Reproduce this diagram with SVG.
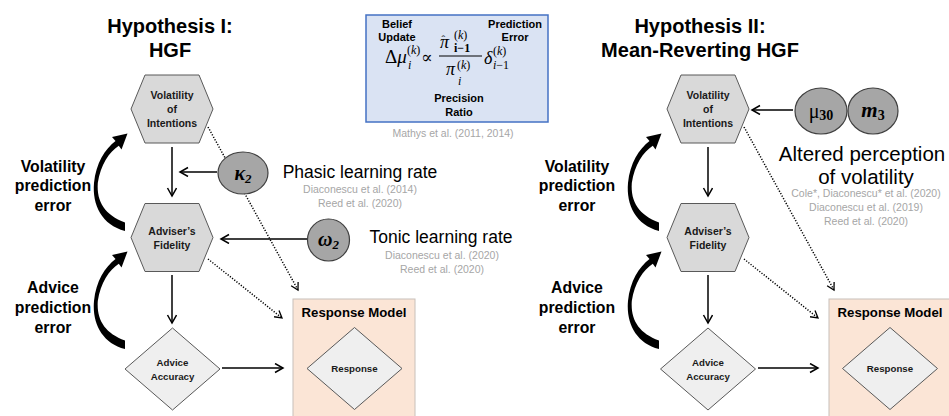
<svg xmlns="http://www.w3.org/2000/svg" xmlns:xlink="http://www.w3.org/1999/xlink" width="949" height="416" viewBox="0 0 949 416">
<style>
.title{font-family:"Liberation Sans",Arial,sans-serif;font-weight:bold;font-size:20px;text-anchor:middle;fill:#000}
.side{font-family:"Liberation Sans",Arial,sans-serif;font-weight:bold;font-size:15.8px;text-anchor:middle;fill:#000}
.node{font-family:"Liberation Sans",Arial,sans-serif;font-weight:bold;font-size:10.5px;text-anchor:middle;fill:#1a1a1a}
.nsm{font-family:"Liberation Sans",Arial,sans-serif;font-weight:bold;font-size:9.7px;text-anchor:middle;fill:#1a1a1a}
.rm{font-family:"Liberation Sans",Arial,sans-serif;font-weight:bold;font-size:13.2px;text-anchor:middle;fill:#000}
.lab{font-family:"Liberation Sans",Arial,sans-serif;font-weight:bold;font-size:11px;text-anchor:middle;fill:#000}
.hex{fill:#d9d9d9;stroke:#595959;stroke-width:1}
.dia{fill:#efefef;stroke:#595959;stroke-width:1}
.par{fill:#a6a6a6;stroke:#3f3f3f;stroke-width:1.2}
.big{font-family:"Liberation Sans",Arial,sans-serif;font-size:17.5px;text-anchor:middle;fill:#000}
.big2{font-family:"Liberation Sans",Arial,sans-serif;font-size:20.5px;text-anchor:middle;fill:#000}
.ref{font-family:"Liberation Sans",Arial,sans-serif;font-size:10.5px;fill:#a6a6a6;text-anchor:middle}
.math{font-family:"Liberation Serif","DejaVu Serif",serif;fill:#000}
.resp{fill:#fbe5d6;stroke:#c8c0ba;stroke-width:1}
.conn{stroke:#000;stroke-width:1.5;fill:none;marker-end:url(#arr)}
.dot{stroke:#000;stroke-width:1.5;stroke-dasharray:1.2 1.6;fill:none;marker-end:url(#arrd)}
.curve{fill:#000;stroke:none}
</style>
<defs>
<marker id="arr" markerWidth="12" markerHeight="12" refX="9" refY="5" orient="auto" markerUnits="userSpaceOnUse">
<path d="M1,0.5 L9,5 L1,9.5" fill="none" stroke="#000" stroke-width="1.5"/>
</marker>
<marker id="arrd" markerWidth="12" markerHeight="12" refX="8" refY="4.5" orient="auto" markerUnits="userSpaceOnUse">
<path d="M1,0.5 L8,4.5 L1,8.5" fill="none" stroke="#000" stroke-width="1.3"/>
</marker>
<polygon id="hexshape" points="-41,0 -27,-34 27,-34 41,0 27,34 -27,34"/>
<polygon id="diashape" points="-47.5,0 0,-41 47.5,0 0,41"/>
<path id="carrow" d="M125,231 C102,225 92,205 94,183 C96,163 105,149 115.5,141 L112,137 L127.5,133.5 L121.5,149.5 L118.8,145.8 C109,152 100.5,165 97.8,183 C96.5,202 105,215 125,222.5 Z"/>
</defs>

<!-- Titles -->
<text class="title" x="170" y="33">Hypothesis I:</text>
<text class="title" x="170" y="57">HGF</text>
<text class="title" x="700" y="33">Hypothesis II:</text>
<text class="title" x="700" y="57">Mean-Reverting HGF</text>

<!-- Formula box -->
<g id="formula">
<rect x="366" y="15" width="182" height="107" fill="#dae3f3" stroke="#4472c4" stroke-width="1.5"/>
<text class="lab" x="397" y="28">Belief</text>
<text class="lab" x="397" y="41">Update</text>
<text class="lab" x="515" y="28">Prediction</text>
<text class="lab" x="515" y="41">Error</text>
<text class="lab" x="459" y="102">Precision</text>
<text class="lab" x="459" y="116">Ratio</text>
<text class="math" x="385" y="63" font-size="19">Δ<tspan font-style="italic">μ</tspan></text>
<text class="math" x="407" y="54" font-size="12">(<tspan font-style="italic">k</tspan>)</text>
<text class="math" x="408" y="69" font-size="12" font-style="italic">i</text>
<text class="math" x="421" y="63" font-size="17">∝</text>
<text class="math" x="440" y="48" font-size="18" font-style="italic">π<tspan font-size="11" font-style="normal" dx="-7.5" dy="-5">ˆ</tspan></text>
<text class="math" x="454" y="39" font-size="12">(<tspan font-style="italic">k</tspan>)</text>
<text class="math" x="454" y="52" font-size="12" font-weight="bold">i−1</text>
<line x1="439" y1="56" x2="482" y2="56" stroke="#000" stroke-width="1"/>
<text class="math" x="446" y="75" font-size="18" font-style="italic">π</text>
<text class="math" x="457" y="69" font-size="12">(<tspan font-style="italic">k</tspan>)</text>
<text class="math" x="458" y="85" font-size="12" font-style="italic">i</text>
<text class="math" x="484" y="64" font-size="18" font-style="italic">δ</text>
<text class="math" x="493" y="55" font-size="12">(<tspan font-style="italic">k</tspan>)</text>
<text class="math" x="493" y="69" font-size="12"><tspan font-style="italic">i</tspan>−1</text>
</g>
<text class="ref" x="453" y="137">Mathys et al. (2011, 2014)</text>

<!-- Connectors -->
<g id="connectors">
<line class="conn" x1="172" y1="147" x2="172" y2="196"/>
<line class="conn" x1="172" y1="275" x2="172" y2="323"/>
<line class="conn" x1="217" y1="172" x2="180" y2="172"/>
<line class="conn" x1="307" y1="239" x2="221" y2="239"/>
<line class="conn" x1="222" y1="368" x2="283" y2="368"/>
<line class="dot" x1="208" y1="127" x2="298" y2="290"/>
<line class="dot" x1="208" y1="259" x2="282" y2="318"/>
<use xlink:href="#carrow" class="curve"/>
<use xlink:href="#carrow" class="curve" transform="translate(0,118)"/>

<line class="conn" x1="708" y1="147" x2="708" y2="196"/>
<line class="conn" x1="708" y1="275" x2="708" y2="323"/>
<line class="conn" x1="793" y1="110" x2="752" y2="110"/>
<line class="conn" x1="758" y1="368" x2="818" y2="368"/>
<line class="dot" x1="744" y1="127" x2="834" y2="290"/>
<line class="dot" x1="744" y1="259" x2="818" y2="318"/>
<use xlink:href="#carrow" class="curve" transform="translate(534,0)"/>
<use xlink:href="#carrow" class="curve" transform="translate(534,118)"/>
</g>

<!-- Side labels -->
<text class="side" x="53" y="172">Volatility</text>
<text class="side" x="53" y="191">prediction</text>
<text class="side" x="53" y="211">error</text>
<text class="side" x="53" y="293">Advice</text>
<text class="side" x="53" y="313">prediction</text>
<text class="side" x="53" y="333">error</text>
<text class="side" x="577" y="172">Volatility</text>
<text class="side" x="577" y="191">prediction</text>
<text class="side" x="577" y="211">error</text>
<text class="side" x="577" y="293">Advice</text>
<text class="side" x="577" y="313">prediction</text>
<text class="side" x="577" y="333">error</text>

<!-- Left nodes -->
<g id="L-volatility">
<use xlink:href="#hexshape" class="hex" x="172" y="109"/>
<text class="node" x="172" y="99">Volatility</text>
<text class="node" x="172" y="113">of</text>
<text class="node" x="172" y="127">Intentions</text>
</g>
<g id="L-fidelity">
<use xlink:href="#hexshape" class="hex" x="172" y="237.5"/>
<text class="node" x="172" y="235">Adviser’s</text>
<text class="node" x="172" y="249">Fidelity</text>
</g>
<g id="L-accuracy">
<use xlink:href="#diashape" class="dia" x="172.5" y="369"/>
<text class="nsm" x="172.5" y="366">Advice</text>
<text class="nsm" x="172.5" y="380">Accuracy</text>
</g>
<g id="L-response">
<rect class="resp" x="293" y="299" width="122" height="122"/>
<text class="rm" x="354" y="317">Response Model</text>
<use xlink:href="#diashape" class="dia" x="354.5" y="368.5"/>
<text class="nsm" x="354.5" y="372">Response</text>
</g>
<g id="L-kappa">
<ellipse class="par" cx="243" cy="173" rx="25" ry="21"/>
<text class="math" x="243" y="180" font-size="20" font-weight="bold" font-style="italic" text-anchor="middle">κ<tspan font-size="13" dy="3">2</tspan></text>
<text class="big" x="360" y="178">Phasic learning rate</text>
<text class="ref" x="360" y="193">Diaconescu et al. (2014)</text>
<text class="ref" x="360" y="207">Reed et al. (2020)</text>
</g>
<g id="L-omega">
<circle class="par" cx="328.5" cy="240" r="21"/>
<text class="math" x="328.5" y="246" font-size="20" font-weight="bold" font-style="italic" text-anchor="middle">ω<tspan font-size="13" dy="3">2</tspan></text>
<text class="big" x="441" y="243">Tonic learning rate</text>
<text class="ref" x="442" y="259">Diaconescu et al. (2020)</text>
<text class="ref" x="442" y="273">Reed et al. (2020)</text>
</g>

<!-- Right nodes -->
<g id="R-volatility">
<use xlink:href="#hexshape" class="hex" x="708" y="109"/>
<text class="node" x="708" y="99">Volatility</text>
<text class="node" x="708" y="113">of</text>
<text class="node" x="708" y="127">Intentions</text>
</g>
<g id="R-fidelity">
<use xlink:href="#hexshape" class="hex" x="708" y="237.5"/>
<text class="node" x="708" y="235">Adviser’s</text>
<text class="node" x="708" y="249">Fidelity</text>
</g>
<g id="R-accuracy">
<use xlink:href="#diashape" class="dia" x="708" y="369"/>
<text class="nsm" x="708" y="366">Advice</text>
<text class="nsm" x="708" y="380">Accuracy</text>
</g>
<g id="R-response">
<rect class="resp" x="829" y="299" width="124" height="122"/>
<text class="rm" x="890" y="317">Response Model</text>
<use xlink:href="#diashape" class="dia" x="890" y="368.5"/>
<text class="nsm" x="890" y="372">Response</text>
</g>
<g id="R-mu30">
<ellipse class="par" cx="821" cy="111" rx="26" ry="23"/>
<text class="math" x="821" y="118" font-size="20" text-anchor="middle">μ<tspan font-size="14" font-weight="bold" dy="2">30</tspan></text>
</g>
<g id="R-m3">
<ellipse class="par" cx="873" cy="111" rx="25" ry="23"/>
<text class="math" x="873" y="117" font-size="21" font-weight="bold" font-style="italic" text-anchor="middle">m<tspan font-size="14" font-style="normal" dy="3">3</tspan></text>
</g>
<g id="R-labels">
<text class="big2" x="862" y="161">Altered perception</text>
<text class="big2" x="866" y="184">of volatility</text>
<text class="ref" x="866" y="197">Cole*, Diaconescu* et al. (2020)</text>
<text class="ref" x="866" y="211">Diaconescu et al. (2019)</text>
<text class="ref" x="866" y="225">Reed et al. (2020)</text>
</g>
</svg>
